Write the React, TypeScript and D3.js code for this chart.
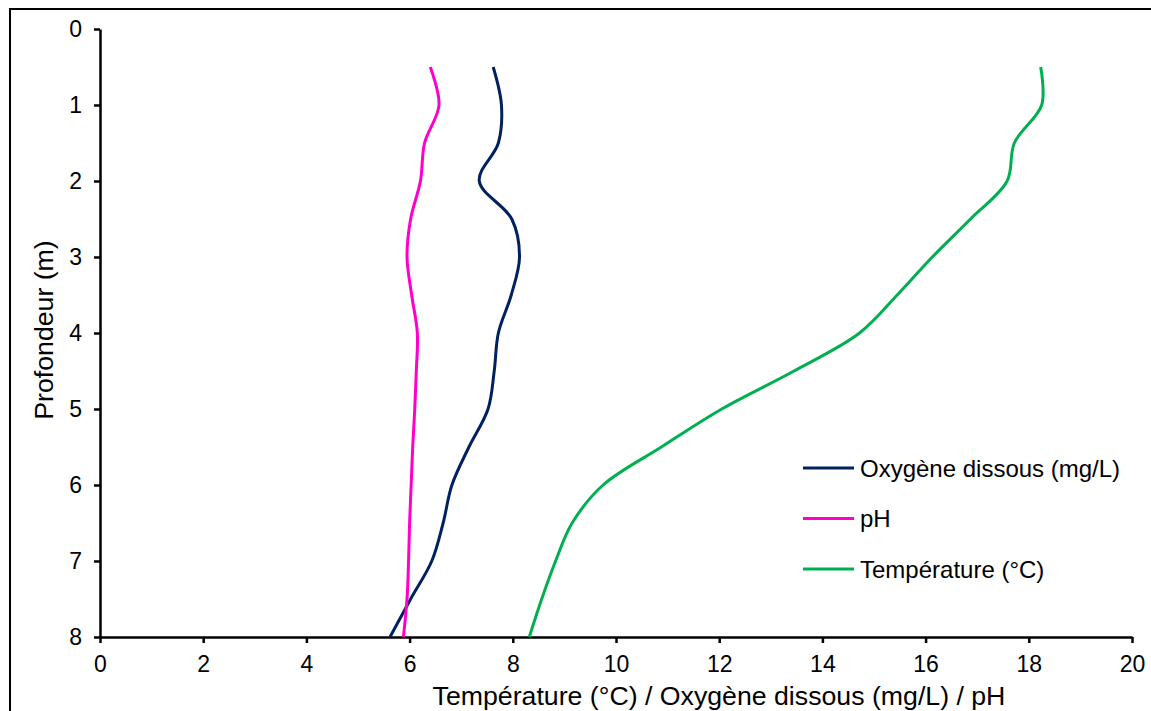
import React, {FC, useEffect, useRef} from 'react';
import * as d3 from 'd3';

// depths (m) where the probe took readings
const depths = [0.5, 1, 1.5, 2, 2.5, 3, 3.5, 4, 4.5, 5, 5.5, 6, 6.5, 7, 7.5, 8];

const oxygen = [7.62, 7.78, 7.72, 7.35, 7.98, 8.13, 7.97, 7.72, 7.64, 7.52, 7.15, 6.82, 6.65, 6.43, 6.02, 5.62];
const ph = [6.4, 6.57, 6.29, 6.21, 6.02, 5.95, 6.04, 6.15, 6.13, 6.1, 6.06, 6.03, 6.0, 5.98, 5.95, 5.88];
const temperature = [18.23, 18.25, 17.72, 17.58, 16.87, 16.13, 15.45, 14.72, 13.45, 12.05, 10.88, 9.75, 9.15, 8.83, 8.56, 8.32];

const seriesNames = ['Oxygène dissous (mg/L)', 'pH', 'Température (°C)'];
const seriesColors = ['#002060', '#FF00CC', '#00B050'];

const xTicks = [0, 2, 4, 6, 8, 10, 12, 14, 16, 18, 20];
const yTicks = [0, 1, 2, 3, 4, 5, 6, 7, 8];

const xTitle = 'Température (°C) / Oxygène dissous (mg/L) / pH';
const yTitle = 'Profondeur (m)';

const W = 1151;
const H = 711;
const FONT = '"Liberation Sans", Arial, sans-serif';

const Profile: FC = () => {
  const ref = useRef<SVGSVGElement>(null);

  useEffect(() => {
    const svg = d3.select(ref.current);
    svg.selectAll('*').remove();

    // outer frame (only left and top edges show in the crop)
    svg
      .append('rect')
      .attr('x', 10)
      .attr('y', 9)
      .attr('width', 1300)
      .attr('height', 900)
      .attr('fill', 'none')
      .attr('stroke', '#000')
      .attr('stroke-width', 2);

    const x = d3.scaleLinear().domain([0, 20]).range([100, 1132]);
    const y = d3.scaleLinear().domain([0, 8]).range([29, 637]);

    // Y axis
    const gy = svg
      .append('g')
      .attr('transform', `translate(${x(0)},0)`)
      .call(d3.axisLeft(y).tickValues(yTicks).tickSize(6).tickSizeOuter(0).tickPadding(12));
    gy.select('.domain').attr('stroke-width', 2.5);
    gy.selectAll('.tick line').attr('stroke-width', 2.5);
    gy.selectAll('.tick text')
      .attr('font-family', FONT)
      .attr('font-size', 23)
      .attr('fill', '#000');

    // X axis
    const gx = svg
      .append('g')
      .attr('transform', `translate(0,${y(8)})`)
      .call(d3.axisBottom(x).tickValues(xTicks).tickSize(6).tickSizeOuter(0).tickPadding(13));
    gx.select('.domain').attr('stroke-width', 2.5);
    gx.selectAll('.tick line').attr('stroke-width', 2.5);
    gx.selectAll('.tick text')
      .attr('font-family', FONT)
      .attr('font-size', 23)
      .attr('fill', '#000');

    // axis titles
    svg
      .append('text')
      .attr('x', (433 + 1005) / 2)
      .attr('y', 705)
      .attr('text-anchor', 'middle')
      .attr('font-family', FONT)
      .attr('font-size', 26.7)
      .text(xTitle);
    svg
      .append('text')
      .attr('transform', `translate(53,${330}) rotate(-90)`)
      .attr('text-anchor', 'middle')
      .attr('font-family', FONT)
      .attr('font-size', 26.7)
      .text(yTitle);

    // curves
    const values = [oxygen, ph, temperature];
    const line = d3
      .line<[number, number]>()
      .x(d => x(d[0]))
      .y(d => y(d[1]))
      .curve(d3.curveCatmullRom.alpha(0.5));

    values.forEach((vals, i) => {
      const pts: [number, number][] = vals.map((v, j) => [v, depths[j]]);
      svg
        .append('path')
        .attr('d', line(pts))
        .attr('fill', 'none')
        .attr('stroke', seriesColors[i])
        .attr('stroke-width', 3);
    });

    // legend
    const legend = svg.append('g').attr('transform', 'translate(803,468)');
    seriesNames.forEach((name, i) => {
      const row = legend.append('g').attr('transform', `translate(0,${i * 50.5})`);
      row
        .append('line')
        .attr('x1', 0)
        .attr('x2', 51)
        .attr('stroke', seriesColors[i])
        .attr('stroke-width', 3);
      row
        .append('text')
        .attr('x', 57)
        .attr('y', 8.5)
        .attr('font-family', FONT)
        .attr('font-size', 24)
        .attr('fill', '#000')
        .text(name);
    });
  }, []);

  return <svg ref={ref} width={W} height={H} style={{display: 'block', overflow: 'hidden'}} />;
};

const App: FC = () => (
  <>
    <style>{'body{margin:0;background:#fff}'}</style>
    <Profile />
  </>
);

export default App;
